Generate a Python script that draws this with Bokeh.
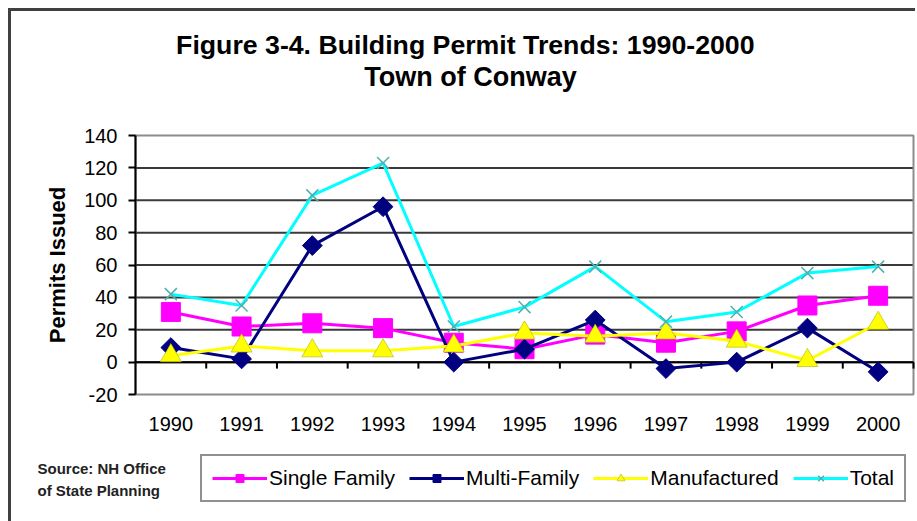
from bokeh.plotting import figure
from bokeh.layouts import column
from bokeh.models import Range1d, FixedTicker, Legend, LegendItem, Label
from bokeh.embed import file_html
from bokeh.resources import INLINE

# ---- data ----
years = ["1990", "1991", "1992", "1993", "1994", "1995", "1996", "1997", "1998", "1999", "2000"]
single_family = [31, 22, 24, 21, 12, 8, 17, 12, 19, 35, 41]
multi_family = [9, 2, 72, 96, 0, 8, 26, -4, 0, 21, -6]
manufactured = [4, 10, 7, 7, 10, 18, 16, 18, 13, 1, 24]
total = [42, 35, 103, 123, 22, 34, 59, 25, 31, 55, 59]
y_ticks = [-20, 0, 20, 40, 60, 80, 100, 120, 140]

series_names = ["Single Family", "Multi-Family", "Manufactured", "Total"]
title_1 = "Figure 3-4.  Building Permit Trends: 1990-2000"
title_2 = "Town of Conway"
y_label = "Permits Issued"
source_1 = "Source: NH Office"
source_2 = "of State Planning"

FONT = "Liberation Sans"

STYLES = [
    dict(line_color="#FF00FF", marker="square", size=19, angle=0.0,
         fill_color="#FF00FF", m_line_color="#FF00FF", m_line_width=1),
    dict(line_color="#000080", marker="square", size=14, angle=0.785398,
         fill_color="#000080", m_line_color="#000080", m_line_width=1),
    dict(line_color="#FFFF00", marker="triangle", size=21, angle=0.0,
         fill_color="#FFFF00", m_line_color="#b0b000", m_line_width=0.6),
    dict(line_color="#00FFFF", marker="x", size=17, angle=0.0,
         fill_color=None, m_line_color="#4fb0b0", m_line_width=1.5),
]

# ---- layout geometry (canvas pixels) ----
W, H = 904, 510
PL, PR, PT, PB = 124, 902, 124, 383          # plot area inside the canvas

xs = list(range(len(years)))
x_lo, x_hi = -0.5, len(years) - 0.5
y_lo, y_hi = min(y_ticks), max(y_ticks)
kx = (PR - PL) / (x_hi - x_lo)
ky = (PB - PT) / (y_hi - y_lo)
x_start, x_end = x_lo - PL / kx, x_hi + (W - PR) / kx
y_start, y_end = y_lo - (H - PB) / ky, y_hi + PT / ky


def dx(px):
    return x_start + px / kx


def dy(py):
    return y_end - py / ky


p = figure(width=W, height=H, output_backend="svg", toolbar_location=None,
           x_range=Range1d(x_start, x_end), y_range=Range1d(y_start, y_end),
           min_border=0, min_border_left=0, min_border_right=0,
           min_border_top=0, min_border_bottom=0)
p.background_fill_color = "white"
p.border_fill_color = "white"
p.outline_line_color = None
p.grid.visible = False

# y axis fixed at the plot area's left edge
yax = p.yaxis[0]
yax.fixed_location = x_lo
yax.bounds = (y_lo, y_hi)
yax.ticker = FixedTicker(ticks=y_ticks)
yax.major_label_overrides = {t: str(t) for t in y_ticks}
yax.axis_line_color = "black"
yax.axis_line_width = 2
yax.major_tick_line_color = "black"
yax.major_tick_line_width = 2
yax.major_tick_out = 7
yax.major_tick_in = 0
yax.minor_tick_line_color = None
yax.major_label_standoff = 11
yax.major_label_text_font = FONT
yax.major_label_text_font_size = "20px"
yax.major_label_text_color = "black"
yax.axis_label = y_label
yax.axis_label_text_font = FONT
yax.axis_label_text_font_size = "22px"
yax.axis_label_text_font_style = "bold"
yax.axis_label_text_color = "black"
yax.axis_label_standoff = 11

# x axis labels under the plot area
xax = p.xaxis[0]
xax.fixed_location = y_lo
xax.bounds = (x_lo, x_hi)
xax.ticker = FixedTicker(ticks=xs)
xax.major_label_overrides = {i: y for i, y in zip(xs, years)}
xax.axis_line_color = None
xax.major_tick_line_color = None
xax.minor_tick_line_color = None
xax.major_tick_out = 0
xax.major_tick_in = 0
xax.major_label_standoff = 22
xax.major_label_text_font = FONT
xax.major_label_text_font_size = "20px"
xax.major_label_text_color = "black"

# horizontal grid lines inside the plot area
inner = y_ticks[1:-1]
p.segment(x0=[x_lo] * len(inner), y0=inner, x1=[x_hi] * len(inner), y1=inner,
          line_color="#3a3a3a", line_width=2)
# plot area border
p.quad(left=[x_lo], right=[x_hi], bottom=[y_lo], top=[y_hi],
       fill_color=None, line_color="#8c8c8c", line_width=2)
# zero axis line with category boundary ticks
p.segment(x0=[x_lo], y0=[0], x1=[x_hi], y1=[0], line_color="black", line_width=2)
bounds = [i + 0.5 for i in xs]
p.segment(x0=bounds, y0=[0] * len(bounds), x1=bounds, y1=[-4] * len(bounds),
          line_color="black", line_width=2)

items = []
for name, vals, st in zip(series_names,
                          [single_family, multi_family, manufactured, total], STYLES):
    rl = p.line(xs, vals, line_color=st["line_color"], line_width=3)
    rm = p.scatter(xs, vals, marker=st["marker"], size=st["size"], angle=st["angle"],
                   fill_color=st["fill_color"], line_color=st["m_line_color"],
                   line_width=st["m_line_width"])
    items.append(LegendItem(label=name, renderers=[rl, rm]))

legend = Legend(items=items, orientation="horizontal", location=(189, 19))
legend.glyph_width = 55
legend.glyph_height = 20
legend.label_standoff = 2
legend.spacing = 14
legend.padding = 10
legend.margin = 0
legend.label_text_font = FONT
legend.label_text_font_size = "21px"
legend.label_text_color = "black"
legend.border_line_color = "#222222"
legend.border_line_width = 2
legend.background_fill_color = "white"
legend.background_fill_alpha = 1
p.add_layout(legend)

# titles and source note
p.add_layout(Label(x=dx(457.5), y=dy(33), text=title_1, text_align="center",
                   text_baseline="alphabetic", text_font=FONT, text_font_size="26.7px",
                   text_font_style="bold", text_color="black"))
p.add_layout(Label(x=dx(459), y=dy(65), text=title_2, text_align="center",
                   text_baseline="alphabetic", text_font=FONT, text_font_size="27px",
                   text_font_style="bold", text_color="black"))
p.add_layout(Label(x=dx(26), y=dy(457), text=source_1, text_align="left",
                   text_baseline="alphabetic", text_font=FONT, text_font_size="15px",
                   text_font_style="bold", text_color="#222222"))
p.add_layout(Label(x=dx(26), y=dy(479), text=source_2, text_align="left",
                   text_baseline="alphabetic", text_font=FONT, text_font_size="15px",
                   text_font_style="bold", text_color="#222222"))

layout = column(p, spacing=0,
                styles={"margin-left": "8px", "margin-top": "8px",
                        "border-left": "3px solid #404040",
                        "border-top": "3px solid #404040"})

open("out.html", "w").write(file_html(layout, INLINE))
